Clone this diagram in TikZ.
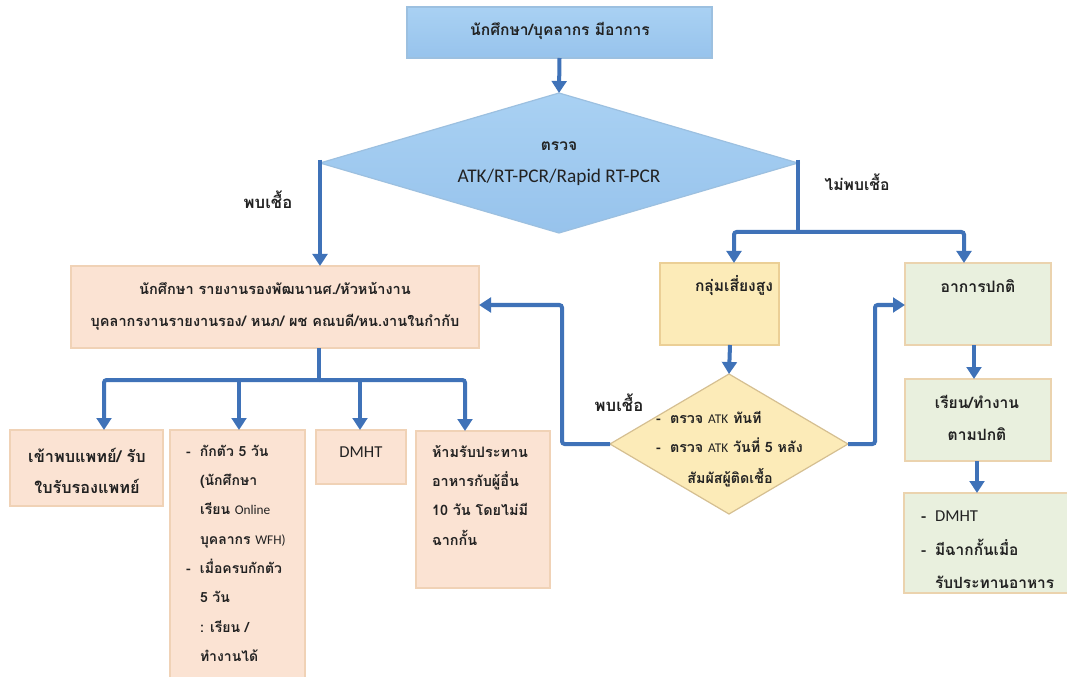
\documentclass[tikz,border=0pt]{standalone}
\usepackage{fontspec}
\setmainfont[Script=Thai]{Loma}
\newfontfamily\latinfont{Carlito}
\usetikzlibrary{arrows.meta,shapes.geometric}
\definecolor{lineblue}{HTML}{3F72B8}
\definecolor{bluetop}{HTML}{A9D1F3}
\definecolor{bluebot}{HTML}{97C3EC}
\definecolor{blueedge}{HTML}{9CC0E0}
\definecolor{peach}{HTML}{FBE3D3}
\definecolor{peachedge}{HTML}{F0D2B6}
\definecolor{yel}{HTML}{FCEBB8}
\definecolor{yeledge}{HTML}{EBCF96}
\definecolor{grn}{HTML}{E9F0DE}
\definecolor{grnedge}{HTML}{EBD3AE}
\definecolor{inktext}{HTML}{222222}
\newcommand{\itm}{\makebox[10.5pt][l]{-}}
\newcommand{\ind}{\hspace*{10.5pt}}
\newcommand{\smalllat}[1]{{\latinfont\mdseries\fontsize{10pt}{10pt}\selectfont #1}}
\newcommand{\bigdmht}{{\latinfont\mdseries\fontsize{12.5pt}{14pt}\selectfont DMHT}}
\tikzset{
  x=0.75pt,y=-0.75pt,
  boxbase/.style={rectangle,draw,line width=0.9pt,inner sep=0pt,outer sep=0pt,anchor=north west},
  peachbox/.style={boxbase,fill=peach,draw=peachedge},
  yelbox/.style={boxbase,fill=yel,draw=yeledge},
  grnbox/.style={boxbase,fill=grn,draw=grnedge},
  bluebox/.style={boxbase,top color=bluetop,bottom color=bluebot,draw=blueedge},
  dia/.style={diamond,draw,line width=0.9pt,inner sep=0pt,outer sep=0pt},
  fs/.style n args={2}{font=\fontsize{#1pt}{#2pt}\selectfont\bfseries},
  txt/.style={inner sep=0pt,outer sep=0pt,text=inktext,align=center,fs={11}{23}},
  txtl/.style={txt,align=left,anchor=north west},
  conn/.style={draw=lineblue,line width=3pt},
  arr/.style={conn,-{Triangle[length=9pt,width=11pt]}}
}
\begin{document}
\begin{tikzpicture}
\useasboundingbox (0,0) rectangle (1067,677);
\fill[white] (0,0) rectangle (1067,677);

% boxes
\node[bluebox,minimum width=228.75pt,minimum height=38.25pt] (top) at (407,7) {};
\node[dia,top color=bluetop,bottom color=bluebot,draw=blueedge,minimum width=358.5pt,minimum height=105pt,aspect=3.414] (d1) at (559,163) {};
\node[peachbox,minimum width=306pt,minimum height=61.5pt] (p) at (71,266) {};
\node[peachbox,minimum width=114.75pt,minimum height=57pt] (a) at (10,430) {};
\node[peachbox,minimum width=101.25pt,minimum height=186pt] (b) at (170,430) {};
\node[peachbox,minimum width=67.5pt,minimum height=40.5pt] (c) at (316,430) {};
\node[peachbox,minimum width=100.5pt,minimum height=117.75pt] (e) at (416,431) {};
\node[yelbox,minimum width=89.25pt,minimum height=61.5pt] (y) at (660,263) {};
\node[dia,fill=yel,draw=yeledge!80!gray,minimum width=178.5pt,minimum height=105pt,aspect=1.7] (d2) at (729,444) {};
\node[grnbox,minimum width=109.5pt,minimum height=61.5pt] (g1) at (905,263) {};
\node[grnbox,minimum width=109.5pt,minimum height=61.5pt] (g2) at (905,379) {};
\node[grnbox,minimum width=123pt,minimum height=75pt] (g3) at (904,493) {};

% junctions
\coordinate (dl) at (320,160);
\coordinate (dr) at (798,160);
\coordinate (jr) at (798,232);
\coordinate (jy) at (734,232);
\coordinate (jg) at (964,232);
\coordinate (jp) at (319,380);
\coordinate (ja) at (104,380);
\coordinate (jb) at (239,380);
\coordinate (jc) at (360,380);
\coordinate (je) at (465,380);
\coordinate (lp) at (562,305);
\coordinate (lg) at (875,305);
\coordinate (s1) at (974,300);
\coordinate (s2) at (977,400);
\coordinate (s3) at (730,300);

% connectors
\draw[arr] (top.south) -- (d1.north);
\draw[arr] (dl) -- (dl |- p.north);
\draw[conn,line join=round] (dr) -- (jr);
\draw[arr,rounded corners=2pt] (jr) -- (jy) -- (jy |- y.north);
\draw[arr,rounded corners=2pt] (jr) -- (jg) -- (jg |- g1.north);
\draw[conn] (jp |- p.south) -- (jp);
\draw[arr,rounded corners=2pt] (jp) -- (ja) -- (ja |- a.north);
\draw[arr] (jb) -- (jb |- b.north);
\draw[arr] (jc) -- (jc |- c.north);
\draw[arr,rounded corners=2pt] (jp) -- (je) -- (je |- e.north);
\draw[arr] (s3 |- y.south) -- (d2.north);
\draw[arr,rounded corners=2pt] (d2.west) -- (lp |- d2.west) -- (lp) -- (lp -| p.east);
\draw[arr,rounded corners=2pt] (d2.east) -- (lg |- d2.east) -- (lg) -- (lg -| g1.west);
\draw[arr] (s1 |- g1.south) -- (s1 |- g2.north);
\draw[arr] (s2 |- g2.south) -- (s2 |- g3.north);

% texts
\node[txt,fs={11.7}{14}] (ttop) at (560,31) {นักศึกษา/บุคลากร มีอาการ};
\node[txt,fs={11.7}{14}] (td1a) at (559,146) {ตรวจ};
\node[txt,font=\latinfont\fontsize{14.5pt}{16pt}\selectfont] (td1b) at (559,177) {ATK/RT-PCR/Rapid RT-PCR};
\node[txt,fs={12.5}{14}] (lfound) at (268,200) {พบเชื้อ};
\node[txt,fs={11.8}{14}] (lnot) at (857,182) {ไม่พบเชื้อ};
\node[txt,fs={12.5}{14}] (lfound2) at (619,403) {พบเชื้อ};
\node[txt,fs={10.9}{24}] (tp) at (275,306) {นักศึกษา รายงานรองพัฒนานศ./หัวหน้างาน\\บุคลากรงานรายงานรอง/ หนภ/ ผช คณบดี/หน.งานในกำกับ};
\node[txt,fs={12.2}{23}] (ta) at (87,471) {เข้าพบแพทย์/ รับ\\ใบรับรองแพทย์};
\node[txtl,fs={10.5}{22}] (tb) at (186,445) {\itm กักตัว 5 วัน\\\ind(นักศึกษา\\\ind เรียน \smalllat{Online}\\\ind บุคลากร \smalllat{WFH)}\\\itm เมื่อครบกักตัว\\\ind 5 วัน\\\ind: เรียน /\\\ind ทำงานได้};
\node[txt,font=\latinfont\fontsize{12.5pt}{14pt}\selectfont] (tc) at (361,452) {DMHT};
\node[txtl,fs={10.8}{22}] (te) at (432,445) {ห้ามรับประทาน\\อาหารกับผู้อื่น\\10 วัน โดยไม่มี\\ฉากกั้น};
\node[txt,fs={11.7}{14}] (ty) at (734,286) {กลุ่มเสี่ยงสูง};
\node[txtl,fs={10.7}{22}] (td2) at (656,411) {\itm ตรวจ \smalllat{ATK} ทันที\\\itm ตรวจ \smalllat{ATK} วันที่ 5 หลัง};
\node[txt,fs={10.7}{14}] (td2c) at (730,478) {สัมผัสผู้ติดเชื้อ};
\node[txt,fs={11.8}{14}] (tg1) at (978,286) {อาการปกติ};
\node[txt,fs={11.7}{23.5}] (tg2) at (977,418) {เรียน/ทำงาน\\ตามปกติ};
\node[txtl,fs={11.6}{25}] (tg3) at (921,511) {\itm \bigdmht\\\itm มีฉากกั้นเมื่อ\\\ind รับประทานอาหาร};
\end{tikzpicture}
\end{document}
